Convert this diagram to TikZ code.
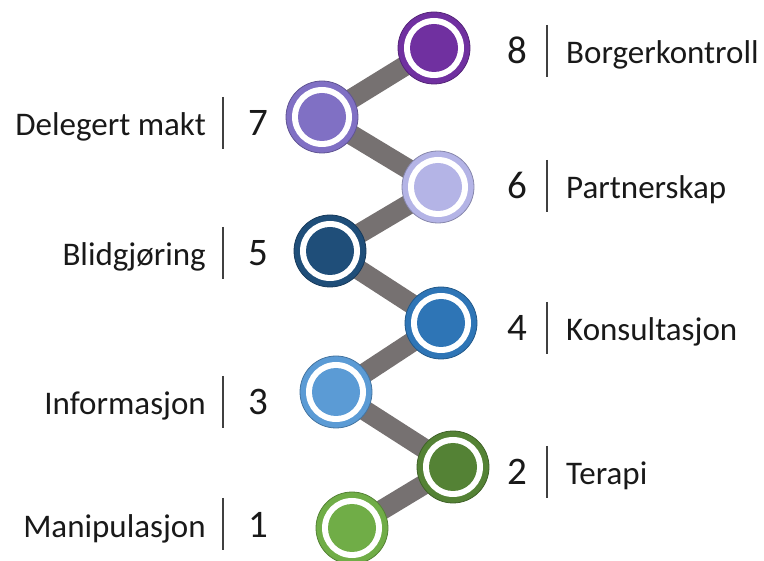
\documentclass[tikz,border=0pt]{standalone}
\usepackage{fontspec}
\setmainfont{Carlito}
\usetikzlibrary{backgrounds}

\definecolor{rungA}{HTML}{70AD47}
\definecolor{rungB}{HTML}{548235}
\definecolor{rungC}{HTML}{5B9BD5}
\definecolor{rungD}{HTML}{2E75B6}
\definecolor{rungE}{HTML}{1F4E79}
\definecolor{rungF}{HTML}{B4B4E6}
\definecolor{rungG}{HTML}{8070C4}
\definecolor{rungH}{HTML}{7030A0}
\definecolor{railgray}{HTML}{767171}
\definecolor{bargray}{HTML}{404040}

\begin{document}
\begin{tikzpicture}[x=1pt,y=-1pt,
    rung/.style={circle, inner sep=0pt, minimum size=72pt, fill=#1,
        draw=#1!75!black, line width=0.8pt,
        path picture={
            \fill[white] (path picture bounding box.center) circle (30pt);
            \fill[#1] (path picture bounding box.center) circle (24pt);}},
    rail/.style={draw=railgray, line width=20pt},
    num/.style={font=\fontsize{39}{42}\selectfont, text=black!90, inner sep=0pt},
    lbl/.style={font=\fontsize{33}{36}\selectfont, text=black!90, inner sep=0pt},
    bar/.style={draw=bargray, line width=1.5pt}]
\useasboundingbox (0,0) rectangle (764,561);

% the ladder
\node[rung=rungA] (c1) at (352,528) {};
\node[rung=rungB] (c2) at (453,467) {};
\node[rung=rungC] (c3) at (336,392) {};
\node[rung=rungD] (c4) at (441,323) {};
\node[rung=rungE] (c5) at (330,251) {};
\node[rung=rungF] (c6) at (438,187) {};
\node[rung=rungG] (c7) at (322,117) {};
\node[rung=rungH] (c8) at (434,48) {};

\begin{scope}[on background layer]
    \foreach \a/\b in {1/2,2/3,3/4,4/5,5/6,6/7,7/8}
        \draw[rail] (c\a.center) -- (c\b.center);
\end{scope}

% labels on the right
\foreach \n/\y/\t in {8/64/Borgerkontroll,6/199/Partnerskap,4/341/Konsultasjon,2/485/Terapi} {
    \node[num, anchor=base] (n\n) at (517,\y) {\n};
    \node[lbl, anchor=base west] (t\n) at (566,\y) {\t};
    \draw[bar] (547,\y-39) -- (547,\y+13);
}

% labels on the left
\foreach \n/\y/\t in {7/136/Delegert makt,5/266/Blidgjøring,3/415/Informasjon,1/537/Manipulasjon} {
    \node[num, anchor=base] (n\n) at (258,\y) {\n};
    \node[lbl, anchor=base east] (t\n) at (206,\y) {\t};
    \draw[bar] (223,\y-39) -- (223,\y+13);
}
\end{tikzpicture}
\end{document}
